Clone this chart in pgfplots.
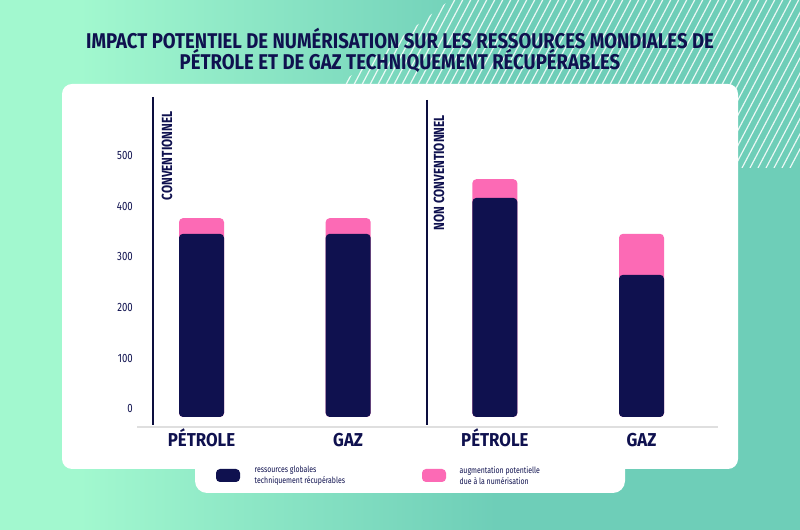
\documentclass[border=0pt]{standalone}
\usepackage{pgfplots}
\pgfplotsset{compat=1.18}
\usepackage{fontspec}
\setmainfont{Fira Sans}
\newfontfamily\condf{Fira Sans}[FakeStretch=0.8]
\newfontfamily\titlef{Fira Sans}[FakeStretch=0.87]
\newfontfamily\semif{Fira Sans}[FakeStretch=0.9]

\definecolor{navy}{HTML}{0F114F}
\definecolor{rose}{HTML}{FC6AB5}
\definecolor{mint}{HTML}{A2F8CF}
\definecolor{teal}{HTML}{6ECEB8}
\pgfdeclarehorizontalshading{bg}{100bp}{color(0bp)=(mint); color(30bp)=(mint); color(56bp)=(teal); color(100bp)=(teal)}

% base = ressources globales, total = base + augmentation
\pgfplotstableread{
x base total
0 362 393
1 362 393
2 433 470
3 281 362
}\ressources

\begin{document}
\begin{tikzpicture}
% decor, in pixels (800x530), y up
\begin{scope}[x=0.75pt,y=0.75pt]
\path[use as bounding box] (0,0) rectangle (800,530);
\shade[shading=bg] (0,0) rectangle (800,530);
\begin{scope}
\clip (450,530) -- (800,530) -- (800,362) -- (230,362) -- cycle;
\foreach \i in {0,...,85}
  \draw[white, opacity=0.85, line width=0.9pt] ({110+\i*8},362) -- ++(95,180);
\end{scope}
\fill[white, rounded corners=7.5pt] (62,61) rectangle (738,446);
\fill[white, rounded corners=9pt] (195,37) rectangle (625,100);

\node[anchor=base, text=navy, font=\titlef\bfseries\fontsize{16}{16}\selectfont] at (400,481)
  {IMPACT POTENTIEL DE NUMÉRISATION SUR LES RESSOURCES MONDIALES DE};
\node[anchor=base, text=navy, font=\titlef\bfseries\fontsize{16}{16}\selectfont] at (400,460)
  {PÉTROLE ET DE GAZ TECHNIQUEMENT RÉCUPÉRABLES};

\draw[gray!25, line width=0.8pt] (137,103) -- (718,103);
\draw[navy!80!black, line width=0.8pt] (153,433) -- (153,105);
\draw[navy!80!black, line width=0.8pt] (427,430) -- (427,105);

\node[rotate=90, anchor=west, text=navy, font=\condf\bfseries\fontsize{11}{11}\selectfont] at (167,325) {CONVENTIONNEL};
\node[rotate=90, anchor=west, text=navy, font=\condf\bfseries\fontsize{11}{11}\selectfont] at (439,295) {NON CONVENTIONNEL};

\fill[navy, rounded corners=3pt] (216,48) rectangle (240,61);
\fill[rose, rounded corners=3pt] (422,48) rectangle (446,61);
\node[anchor=west, align=left, text=navy, font=\condf\fontsize{6.5}{8.2}\selectfont] at (250,54.5)
  {ressources globales\\techniquement récupérables};
\node[anchor=west, align=left, text=navy, font=\condf\fontsize{6.5}{8.2}\selectfont] at (455,54.5)
  {augmentation potentielle\\due à la numérisation};
\end{scope}

\begin{axis}[
  at={(114.75pt,77.25pt)}, anchor=south west,
  scale only axis, width=417.75pt, height=249pt,
  xmin=-0.3307, xmax=3.467, ymin=-19.8, ymax=636.4,
  axis line style={draw=none}, major tick length=0pt,
  ytick={0,100,...,500},
  xtick={0,1,2,3}, xticklabels={PÉTROLE,GAZ,PÉTROLE,GAZ},
  /pgf/number format/assume math mode=true,
  yticklabel style={anchor=base east, inner sep=0pt, xshift=-15pt, yshift=3.2pt,
    text=navy, font=\condf\fontsize{9}{9}\selectfont},
  xticklabel style={anchor=base, yshift=-15pt, text=navy,
    font=\semif\bfseries\fontsize{14}{14}\selectfont},
  ybar, bar width=33.75pt,
  clip=false,
]
\addplot[fill=rose, draw=none, bar shift=0pt, rounded corners=3pt] table[x=x, y=total] {\ressources};
\addplot[fill=navy, draw=none, bar shift=0pt, rounded corners=3pt] table[x=x, y=base] {\ressources};
\end{axis}
\end{tikzpicture}
\end{document}
